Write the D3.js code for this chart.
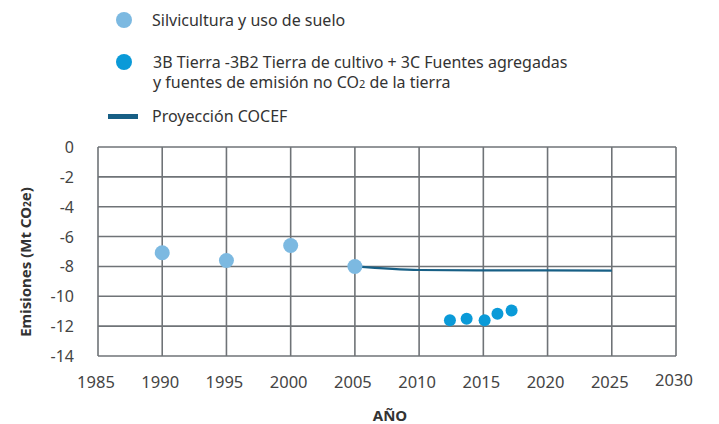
<!DOCTYPE html>
<html>
<head>
<meta charset="utf-8">
<script src="https://cdn.jsdelivr.net/npm/d3@7"></script>
<style>
  body { margin: 0; background: #fff; }
  text { font-family: 'Noto Sans', sans-serif; }
</style>
</head>
<body>
<div id="chart"></div>
<script>
// Silvicultura y uso de suelo
const silvYears = [1990, 1995, 2000, 2005];
const silvValues = [-7.08, -7.6, -6.6, -8.0];

// 3B Tierra - 3B2 + 3C
const tierraYears = [2012.4, 2013.7, 2015.1, 2016.1, 2017.2];
const tierraValues = [-11.6, -11.5, -11.6, -11.17, -10.95];

// Proyección COCEF
const projYears = [2005, 2010, 2015, 2020, 2025];
const projValues = [-8.0, -8.24, -8.26, -8.27, -8.28];

const xTicks = [1985, 1990, 1995, 2000, 2005, 2010, 2015, 2020, 2025, 2030];
const yTicks = [0, -2, -4, -6, -8, -10, -12, -14];

const width = 719, height = 424;
const margin = { top: 147, left: 98, right: 43, bottom: 68 };

const svg = d3.select('#chart').append('svg')
  .attr('width', width)
  .attr('height', height);

const x = d3.scaleLinear().domain([1985, 2030]).range([margin.left, width - margin.right]);
const y = d3.scaleLinear().domain([0, -14]).range([margin.top, height - margin.bottom]);

const gridColor = '#6f7377';

// vertical grid
svg.append('g')
  .selectAll('line')
  .data(xTicks)
  .enter()
  .append('line')
  .attr('x1', d => x(d)).attr('x2', d => x(d))
  .attr('y1', y(0)).attr('y2', y(-14))
  .attr('stroke', gridColor)
  .attr('stroke-width', 1.6);

// horizontal grid
svg.append('g')
  .selectAll('line')
  .data(yTicks)
  .enter()
  .append('line')
  .attr('x1', x(1985)).attr('x2', x(2030))
  .attr('y1', d => y(d)).attr('y2', d => y(d))
  .attr('stroke', gridColor)
  .attr('stroke-width', 1.6);

// y tick labels
svg.append('g')
  .selectAll('text')
  .data(yTicks)
  .enter()
  .append('text')
  .attr('x', 74)
  .attr('y', d => y(d) + 6)
  .attr('text-anchor', 'end')
  .attr('font-size', 16)
  .attr('fill', '#444')
  .text(d => d);

// x tick labels
svg.append('g')
  .selectAll('text')
  .data(xTicks)
  .enter()
  .append('text')
  .attr('x', d => x(d) - 2)
  .attr('y', d => d === 2030 ? 386 : 388)
  .attr('text-anchor', 'middle')
  .attr('font-size', 16.5)
  .attr('fill', '#444')
  .text(d => d);

// axis titles
svg.append('text')
  .attr('transform', 'translate(31, 262) rotate(-90)')
  .attr('text-anchor', 'middle')
  .attr('font-size', 15)
  .attr('font-weight', 'bold')
  .attr('fill', '#333')
  .html('Emisiones (Mt CO<tspan font-size="10">2</tspan>e)');

svg.append('text')
  .attr('x', 390)
  .attr('y', 421)
  .attr('text-anchor', 'middle')
  .attr('font-size', 15)
  .attr('font-weight', 'bold')
  .attr('fill', '#333')
  .text('AÑO');

// projection line
const line = d3.line()
  .x((d, i) => x(projYears[i]))
  .y(d => y(d))
  .curve(d3.curveMonotoneX);

svg.append('path')
  .datum(projValues)
  .attr('d', line)
  .attr('fill', 'none')
  .attr('stroke', '#175f85')
  .attr('stroke-width', 2.2);

// points
svg.append('g')
  .selectAll('circle')
  .data(silvValues)
  .enter()
  .append('circle')
  .attr('cx', (d, i) => x(silvYears[i]))
  .attr('cy', d => y(d))
  .attr('r', 7.5)
  .attr('fill', '#7cb9e1');

svg.append('g')
  .selectAll('circle')
  .data(tierraValues)
  .enter()
  .append('circle')
  .attr('cx', (d, i) => x(tierraYears[i]))
  .attr('cy', d => y(d))
  .attr('r', 6)
  .attr('fill', '#0a9ad8');

// legend
const legend = svg.append('g');
legend.append('circle').attr('cx', 124).attr('cy', 20).attr('r', 8).attr('fill', '#7cb9e1');
legend.append('text').attr('x', 152).attr('y', 26).attr('font-size', 16).attr('fill', '#333')
  .text('Silvicultura y uso de suelo');

legend.append('circle').attr('cx', 124).attr('cy', 62).attr('r', 8).attr('fill', '#0a9ad8');
legend.append('text').attr('x', 153).attr('y', 68).attr('font-size', 16).attr('fill', '#333')
  .text('3B Tierra -3B2 Tierra de cultivo + 3C Fuentes agregadas');
legend.append('text').attr('x', 153).attr('y', 88).attr('font-size', 16).attr('fill', '#333')
  .html('y fuentes de emisión no CO<tspan font-size="11">2</tspan> de la tierra');

legend.append('rect').attr('x', 108).attr('y', 114).attr('width', 30).attr('height', 5).attr('fill', '#175f85');
legend.append('text').attr('x', 152).attr('y', 122).attr('font-size', 16).attr('fill', '#333')
  .text('Proyección COCEF');
</script>
</body>
</html>
